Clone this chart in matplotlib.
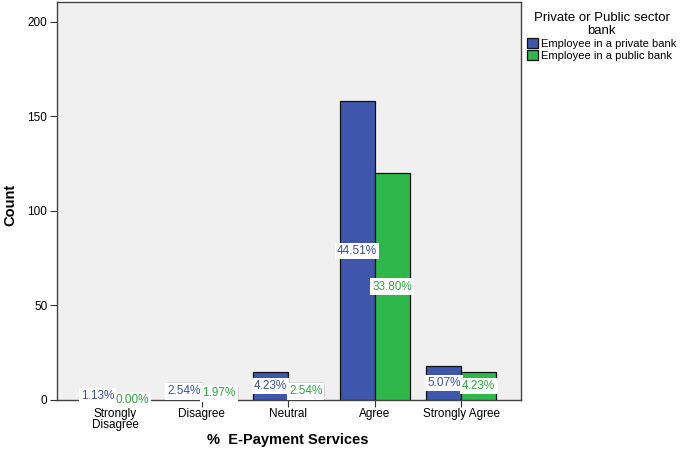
import numpy as np
import matplotlib
matplotlib.use("Agg")
import matplotlib.pyplot as plt

# ---- data ----
categories = ["Strongly\nDisagree", "Disagree", "Neutral", "Agree", "Strongly Agree"]
private_counts = [4, 9, 15, 158, 18]
public_counts = [0, 7, 9, 120, 15]
private_pct = ["1.13%", "2.54%", "4.23%", "44.51%", "5.07%"]
public_pct = ["0.00%", "1.97%", "2.54%", "33.80%", "4.23%"]
series_names = ["Employee in a private bank", "Employee in a public bank"]

plt.rcParams.update({
    "font.family": "sans-serif",
    "font.sans-serif": ["Liberation Sans", "DejaVu Sans"],
})

BLUE = "#3E57AC"
GREEN = "#2EB84A"
BLUE_TXT = "#3A4E9E"
GREEN_TXT = "#2AA83C"

fig = plt.figure(figsize=(6.85, 4.54), dpi=100)
ax = fig.add_axes([57 / 685, 54 / 454, (521 - 57) / 685, (400 - 2) / 454])
ax.set_facecolor("#F0F0F0")

x = np.arange(len(categories))
w = 0.405

b1 = ax.bar(x - w / 2, private_counts, width=w, color=BLUE, edgecolor="#111111",
            linewidth=0.9, zorder=3, label=series_names[0])
b2 = ax.bar(x + w / 2, public_counts, width=w, color=GREEN, edgecolor="#111111",
            linewidth=0.9, zorder=3, label=series_names[1])

# percentage labels at mid-height of each bar
for xi, c, t in zip(x - w / 2, private_counts, private_pct):
    ax.text(xi, c / 2, t, ha="center", va="center", fontsize=8.5, color=BLUE_TXT,
            zorder=5, bbox=dict(facecolor="white", edgecolor="none", pad=1.5))
for xi, c, t in zip(x + w / 2, public_counts, public_pct):
    ax.text(xi, c / 2, t, ha="center", va="center", fontsize=8.5, color=GREEN_TXT,
            zorder=5, bbox=dict(facecolor="white", edgecolor="none", pad=1.5))

ax.set_xlim(-0.67, 4.69)
ax.set_ylim(0, 210.5)
ax.set_yticks([0, 50, 100, 150, 200])
ax.set_xticks(x)
ax.set_xticklabels(categories, fontsize=8.5, linespacing=0.9)
ax.tick_params(axis="y", labelsize=8.5, length=5, width=0.8, color="#333333", pad=2)
ax.tick_params(axis="x", length=5, width=0.8, color="#333333", pad=1)
for sp in ax.spines.values():
    sp.set_color("#444444")
    sp.set_linewidth(1.0)

fig.text(10 / 685, 1 - 205 / 454, "Count", rotation=90, ha="center", va="center",
         fontsize=10.5, fontweight="bold")
fig.text(288 / 685, 1 - 440 / 454, "%  E-Payment Services", ha="center", va="center",
         fontsize=10.5, fontweight="bold")

leg = fig.legend(handles=[b1, b2], labels=series_names,
                 title="Private or Public sector\nbank",
                 loc="upper left", bbox_to_anchor=(519 / 685, 0.99),
                 frameon=False, fontsize=8, title_fontsize=9.5,
                 handlelength=1.0, handleheight=1.0, handletextpad=0.3,
                 borderaxespad=0.3, labelspacing=0.1)
leg.get_title().set_multialignment("center")
leg.get_title().set_linespacing(1.05)

fig.savefig("out.png", dpi=100, facecolor="white")
